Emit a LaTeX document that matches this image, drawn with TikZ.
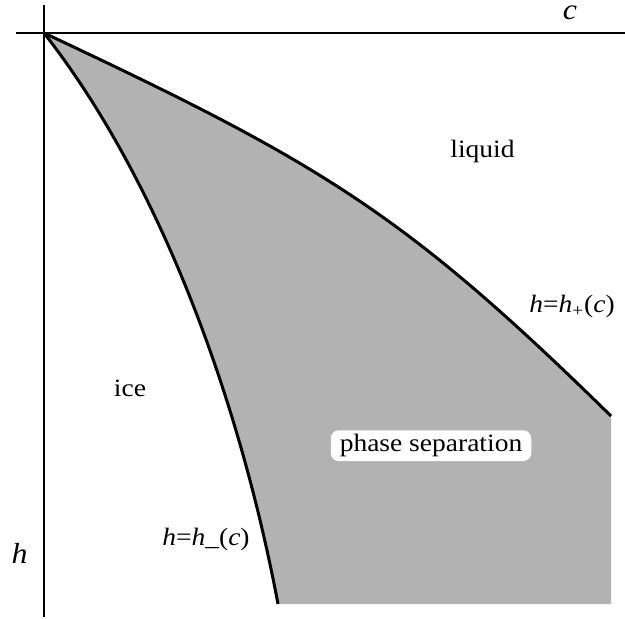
\documentclass[tikz,border=0pt]{standalone}
\usepackage{fontspec}
\setmainfont[FakeStretch=1.1]{Liberation Serif}
\usetikzlibrary{positioning}

\begin{document}
\begin{tikzpicture}[x=0.5pt, y=-0.5pt,
    lbl/.style={font=\fontsize{12.5}{15}\selectfont, anchor=base, inner sep=0pt},
    axlbl/.style={font=\fontsize{14.5}{17}\selectfont\itshape, anchor=base, inner sep=0pt},
    curve/.style={line width=1.5pt},
    axis/.style={line width=1.2pt}]
    \useasboundingbox (0,0) rectangle (625,619);

    % Key points of the diagram
    \coordinate (O) at (44,33);
    \coordinate (Pend) at (611,416);
    \coordinate (Mend) at (278,604);
    \coordinate (BR) at (611,604);
    \coordinate (Htop) at (44,5);
    \coordinate (Hbot) at (44,617);
    \coordinate (Cleft) at (16,33);
    \coordinate (Cright) at (625,33);

    % Shaded phase separation region
    \fill[black!30] (O) .. controls (323,164) and (405,214) .. (Pend) -- (BR) -- (Mend) .. controls (240,403) and (162,184) .. (O) -- cycle;

    % Coordinate axes
    \draw[axis] (Htop) -- (Hbot);
    \draw[axis] (Cleft) -- (Cright);

    % Boundary curves h_+ and h_-
    \draw[curve] (O) .. controls (323,164) and (405,214) .. (Pend);
    \draw[curve] (O) .. controls (162,184) and (240,403) .. (Mend);

    % Axis labels
    \node[axlbl] (clbl) at (570,20) {c};
    \node[axlbl] (hlbl) at (19.5,563) {h};

    % Region and curve labels
    \node[lbl] (liquid) at (482.5,157.7) {liquid};
    \node[lbl] (ice) at (130,396) {ice};
    \node[lbl] (hplus) at (572,312.7) {\textit{h}=\textit{h}\textsubscript{+}(\textit{c})};
    \node[lbl] (hminus) at (206,545) {\textit{h}=\textit{h}\_(\textit{c})};
    \node[lbl, fill=white, rounded corners=4pt, inner xsep=4.5pt, inner ysep=2pt] (phase) at (431,451.7) {phase separation};
\end{tikzpicture}
\end{document}
